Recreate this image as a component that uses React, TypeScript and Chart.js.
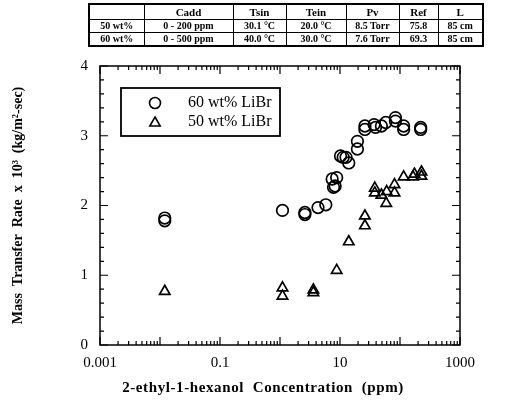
import React, { useEffect, useRef } from "react";
import { Chart, registerables } from "chart.js";
Chart.register(...registerables);

const FONT = "'Liberation Serif', 'Times New Roman', serif";

// ---- data ----
const series60Label = "60 wt% LiBr";
const conc60 = [0.012, 0.012, 1.1, 2.6, 2.6, 4.3, 5.8, 7.4, 7.8, 8.3, 8.8, 10.2, 11.3, 12.6, 14.0, 19.5, 19.5, 26, 26, 37, 39, 49, 58, 84, 84, 115, 115, 221, 221];
const rate60 = [1.82, 1.78, 1.93, 1.90, 1.87, 1.97, 2.01, 2.38, 2.26, 2.28, 2.40, 2.71, 2.69, 2.69, 2.61, 2.92, 2.81, 3.14, 3.09, 3.16, 3.12, 3.14, 3.19, 3.26, 3.21, 3.14, 3.09, 3.12, 3.09];

const series50Label = "50 wt% LiBr";
const conc50 = [0.012, 1.1, 1.1, 3.6, 3.6, 8.8, 14.0, 26, 26, 38, 38, 49, 60, 59, 81, 81, 115, 165, 174, 228, 228];
const rate50 = [0.77, 0.82, 0.70, 0.79, 0.75, 1.07, 1.48, 1.85, 1.71, 2.25, 2.18, 2.15, 2.20, 2.03, 2.30, 2.18, 2.41, 2.41, 2.45, 2.48, 2.42];

const xTickValues = [0.001, 0.1, 10, 1000];
const xTickLabels = ["0.001", "0.1", "10", "1000"];
const yTickValues = [0, 1, 2, 3, 4];
const yTickLabels = ["0", "1", "2", "3", "4"];

const xTitle = "2-ethyl-1-hexanol  Concentration  (ppm)";
const yTitle = "Mass  Transfer  Rate  x  10\u00B3  (kg/m\u00B2-sec)";

const tableHeader = ["", "Cadd", "Tsin", "Tein", "Pv", "Ref", "L"];
const tableRow50 = ["50  wt%", "0 - 200 ppm", "30.1 \u00B0C", "20.0 \u00B0C", "8.5 Torr", "75.8", "85 cm"];
const tableRow60 = ["60 wt%", "0 - 500 ppm", "40.0 \u00B0C", "30.0 \u00B0C", "7.6 Torr", "69.3", "85 cm"];
const tableColWidths = [55, 89, 53, 60, 53, 39, 45];

const framePlugin = {
  id: "frameTicks",
  afterDatasetsDraw(chart: any) {
    const { ctx, chartArea: a, scales } = chart;
    const xs = scales.x;
    const ys = scales.y;
    ctx.save();
    ctx.strokeStyle = "#000";
    ctx.lineWidth = 1.5;
    ctx.strokeRect(a.left, a.top, a.right - a.left, a.bottom - a.top);
    ctx.lineWidth = 1.2;
    ctx.beginPath();
    for (let d = -3; d <= 3; d++) {
      for (let m = 1; m <= 9; m++) {
        const v = m * Math.pow(10, d);
        if (v > 1000 * 1.0001) break;
        const px = xs.getPixelForValue(v);
        const len = m === 1 ? 8 : 4;
        ctx.moveTo(px, a.bottom);
        ctx.lineTo(px, a.bottom - len);
        ctx.moveTo(px, a.top);
        ctx.lineTo(px, a.top + len);
      }
    }
    for (let i = 0; i <= 20; i++) {
      const v = i * 0.2;
      const py = ys.getPixelForValue(v);
      const len = i % 5 === 0 ? 8 : 4;
      ctx.moveTo(a.left, py);
      ctx.lineTo(a.left + len, py);
      ctx.moveTo(a.right, py);
      ctx.lineTo(a.right - len, py);
    }
    ctx.stroke();

    // legend box
    const bx = 121, by = 88, bw = 159, bh = 48;
    ctx.lineWidth = 1.8;
    ctx.strokeRect(bx, by, bw, bh);
    ctx.lineWidth = 1.6;
    ctx.beginPath();
    ctx.arc(155, 103, 5.5, 0, Math.PI * 2);
    ctx.stroke();
    ctx.beginPath();
    const tx = 155, ty = 123, r = 6;
    ctx.moveTo(tx, ty - r);
    ctx.lineTo(tx + r * 0.866, ty + r * 0.5);
    ctx.lineTo(tx - r * 0.866, ty + r * 0.5);
    ctx.closePath();
    ctx.stroke();
    ctx.fillStyle = "#000";
    ctx.font = `16px ${FONT}`;
    ctx.textBaseline = "middle";
    ctx.textAlign = "left";
    ctx.fillText(series60Label, 188, 103);
    ctx.fillText(series50Label, 188, 122);

    // x-axis title
    ctx.font = `bold 15px ${FONT}`;
    ctx.textAlign = "center";
    try {
      (ctx as any).letterSpacing = "0.6px";
    } catch (e) {}
    ctx.fillText(xTitle, 263, 388);
    try {
      (ctx as any).letterSpacing = "0px";
    } catch (e) {}
    ctx.restore();
  },
};

export default function App() {
  const ref = useRef<HTMLCanvasElement | null>(null);
  useEffect(() => {
    const canvas = ref.current!;
    const chart = new Chart(canvas, {
      type: "scatter",
      data: {
        datasets: [
          {
            label: series60Label,
            data: conc60.map((x, i) => ({ x, y: rate60[i] })),
            pointStyle: "circle",
            pointRadius: 5.8,
            borderWidth: 1.7,
            borderColor: "#000",
            backgroundColor: "rgba(0,0,0,0)",
          },
          {
            label: series50Label,
            data: conc50.map((x, i) => ({ x, y: rate50[i] })),
            pointStyle: "triangle",
            pointRadius: 6,
            borderWidth: 1.7,
            borderColor: "#000",
            backgroundColor: "rgba(0,0,0,0)",
          },
        ],
      },
      options: {
        animation: false,
        responsive: false,
        layout: { autoPadding: false, padding: { left: 0, top: 66, right: 48, bottom: 0 } },
        plugins: { legend: { display: false }, tooltip: { enabled: false } },
        scales: {
          x: {
            type: "logarithmic",
            min: 0.001,
            max: 1000,
            grid: { display: false, drawTicks: false },
            border: { display: false },
            afterBuildTicks: (s: any) => {
              s.ticks = xTickValues.map((v) => ({ value: v }));
            },
            afterFit: (s: any) => {
              s.height = 59;
            },
            ticks: {
              autoSkip: false,
              maxRotation: 0,
              padding: 9,
              color: "#000",
              font: { family: FONT, size: 15 },
              callback: (v: any) => {
                const i = xTickValues.findIndex((t) => Math.abs(t - v) / t < 1e-6);
                return i >= 0 ? xTickLabels[i] : "";
              },
            },
            title: { display: false },
          },
          y: {
            min: 0,
            max: 4,
            grid: { display: false, drawTicks: false },
            border: { display: false },
            afterBuildTicks: (s: any) => {
              s.ticks = yTickValues.map((v) => ({ value: v }));
            },
            afterFit: (s: any) => {
              s.width = 100;
            },
            ticks: {
              padding: 12,
              color: "#000",
              font: { family: FONT, size: 15 },
              callback: (v: any) => {
                const i = yTickValues.indexOf(Number(v));
                return i >= 0 ? yTickLabels[i] : "";
              },
            },
            title: {
              display: true,
              text: yTitle,
              color: "#000",
              font: { family: FONT, size: 14, weight: "bold" },
              padding: { top: 10, bottom: 10 },
            },
          },
        },
      } as any,
      plugins: [framePlugin],
    });
    return () => chart.destroy();
  }, []);

  const cell: React.CSSProperties = {
    border: "1.5px solid #000",
    padding: 0,
    textAlign: "center",
    fontFamily: FONT,
    fontSize: 10,
    fontWeight: "bold",
    lineHeight: "12px",
    whiteSpace: "nowrap",
  };

  return (
    <div style={{ position: "absolute", left: 0, top: 0, width: 508, height: 404, background: "#fff" }}>
      <canvas ref={ref} width={508} height={404} style={{ position: "absolute", left: 0, top: 0 }} />
      <table
        style={{
          position: "absolute",
          left: 88,
          top: 3,
          width: 394,
          borderCollapse: "collapse",
          tableLayout: "fixed",
          border: "2px solid #000",
        }}
      >
        <colgroup>
          {tableColWidths.map((w, i) => (
            <col key={i} style={{ width: w }} />
          ))}
        </colgroup>
        <tbody>
          <tr style={{ height: 15 }}>
            {tableHeader.map((t, i) => (
              <td key={i} style={{ ...cell, fontSize: 11 }}>{t}</td>
            ))}
          </tr>
          <tr style={{ height: 13 }}>
            {tableRow50.map((t, i) => (
              <td key={i} style={cell}>{t}</td>
            ))}
          </tr>
          <tr style={{ height: 14 }}>
            {tableRow60.map((t, i) => (
              <td key={i} style={cell}>{t}</td>
            ))}
          </tr>
        </tbody>
      </table>
    </div>
  );
}
